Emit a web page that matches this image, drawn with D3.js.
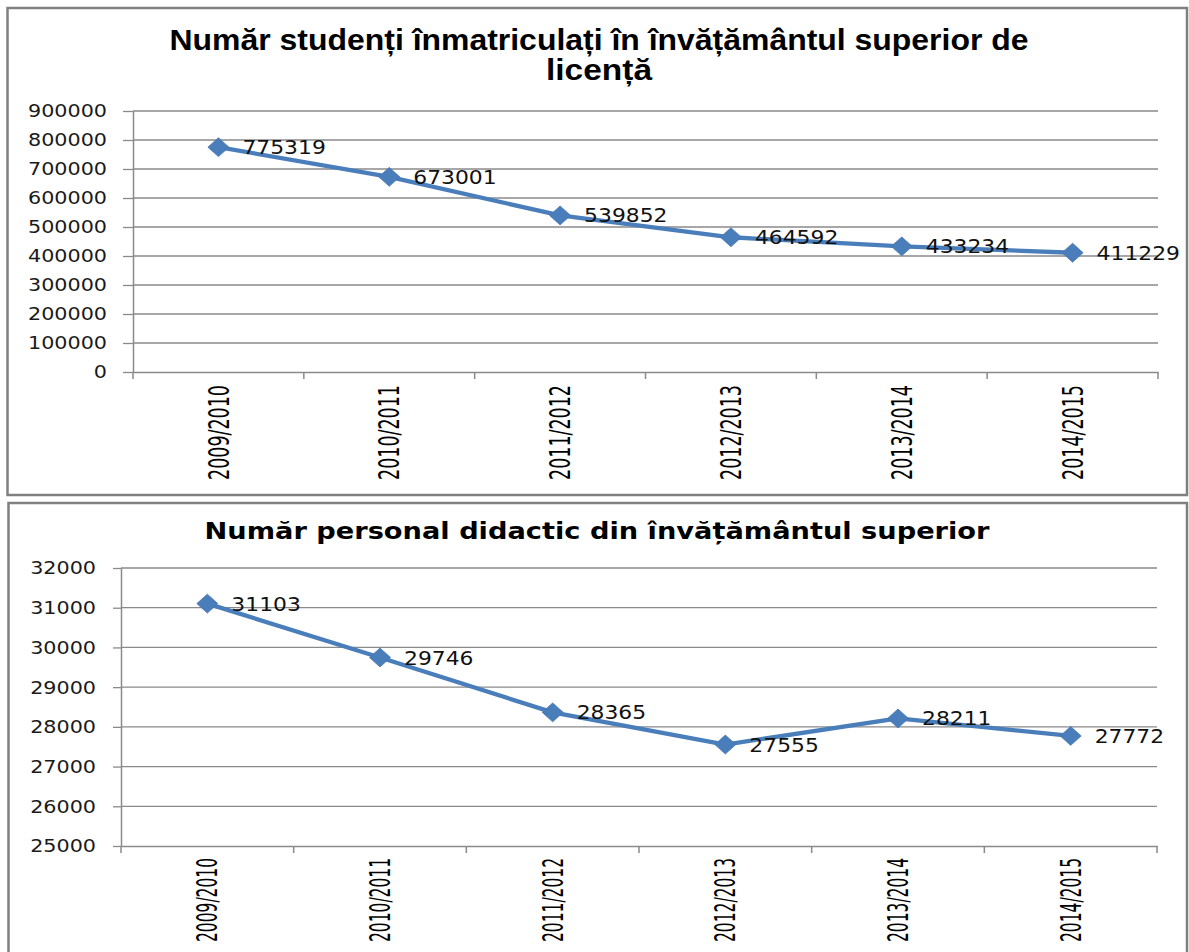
<!DOCTYPE html>
<html>
<head>
<meta charset="utf-8">
<script src="https://cdn.jsdelivr.net/npm/d3@7"></script>
<style>
  html, body { margin: 0; padding: 0; background: #ffffff; }
  svg { display: block; }
</style>
</head>
<body>
<svg id="chart" width="1189" height="952"></svg>
<script>
// ---------------- DATA ----------------
const categories = ["2009/2010", "2010/2011", "2011/2012", "2012/2013", "2013/2014", "2014/2015"];
const studentValues = [775319, 673001, 539852, 464592, 433234, 411229];
const staffValues = [31103, 29746, 28365, 27555, 28211, 27772];
const studentTicks = [0, 100000, 200000, 300000, 400000, 500000, 600000, 700000, 800000, 900000];
const staffTicks = [25000, 26000, 27000, 28000, 29000, 30000, 31000, 32000];
const studentTitle = ["Număr studenți înmatriculați în învățământul superior de", "licență"];
const staffTitle = ["Număr personal didactic din învățământul superior"];

// ---------------- STYLE ----------------
const LINE_COLOR = "#4a7ebb";
const GRID_COLOR = "#8a8a8a";
const FRAME_COLOR = "#808080";
const SX = 1.15; // horizontal stretch of the original picture's text

const svg = d3.select("#chart");

const diamond = {
  draw(context, size) {
    const w = Math.sqrt(size) / 2;
    const h = w * 0.9;
    context.moveTo(0, -h);
    context.lineTo(w, 0);
    context.lineTo(0, h);
    context.lineTo(-w, 0);
    context.closePath();
  }
};

function drawChart(cfg) {
  const g = svg.append("g");

  // frame
  g.append("rect")
    .attr("x", cfg.frame[0]).attr("y", cfg.frame[1])
    .attr("width", cfg.frame[2]).attr("height", cfg.frame[3])
    .attr("fill", "#fff").attr("stroke", FRAME_COLOR).attr("stroke-width", 2.5);

  // title
  cfg.title.forEach((t, i) => {
    const tx = g.append("text")
      .attr("x", cfg.titleX).attr("y", cfg.titleY[i])
      .attr("text-anchor", "middle")
      .attr("font-family", cfg.titleFont)
      .attr("font-weight", "bold")
      .attr("font-size", cfg.titleSize)
      .attr("fill", "#000")
      .text(t);
    if (cfg.titleWidths[i]) {
      tx.attr("textLength", cfg.titleWidths[i]).attr("lengthAdjust", "spacingAndGlyphs");
    }
  });

  const x = d3.scaleBand().domain(categories).range([cfg.left, cfg.right]).paddingInner(0).paddingOuter(0);
  const y = d3.scaleLinear().domain(cfg.domain).range([cfg.bottom, cfg.top]);

  // gridlines
  g.append("g").selectAll("line").data(cfg.ticks.filter(d => d !== cfg.domain[0])).join("line")
    .attr("x1", cfg.left).attr("x2", cfg.right)
    .attr("y1", d => y(d)).attr("y2", d => y(d))
    .attr("stroke", GRID_COLOR).attr("stroke-width", 1.3);

  // y axis
  const yAxis = g.append("g")
    .attr("transform", `translate(${cfg.left},0)`)
    .call(d3.axisLeft(y).tickValues(cfg.ticks).tickSize(cfg.yTickLen).tickSizeOuter(0).tickFormat(d3.format("d")));
  yAxis.select(".domain").attr("stroke", GRID_COLOR).attr("stroke-width", 1.5);
  yAxis.selectAll(".tick line").attr("stroke", GRID_COLOR).attr("stroke-width", 1.3);
  yAxis.selectAll(".tick text").remove();
  // y tick labels (stretched)
  g.append("g").selectAll("text").data(cfg.ticks).join("text")
    .attr("transform", d => `translate(${cfg.yLabelRight},${y(d)}) scale(${SX},1)`)
    .attr("text-anchor", "end")
    .attr("dy", "0.36em")
    .attr("font-family", "DejaVu Sans, Verdana, sans-serif")
    .attr("font-size", cfg.yLabelSize)
    .attr("fill", "#1a1a1a")
    .text(d => d3.format("d")(d));

  // x axis
  const xAxis = g.append("g")
    .attr("transform", `translate(0,${cfg.bottom})`)
    .call(d3.axisBottom(x).tickSize(0).tickSizeOuter(0).tickFormat(""));
  xAxis.select(".domain").attr("stroke", GRID_COLOR).attr("stroke-width", 1.5);
  xAxis.selectAll(".tick").remove();
  // category boundary ticks
  const bounds = categories.map(c => x(c)).concat([x(categories[categories.length - 1]) + x.bandwidth()]);
  g.append("g").selectAll("line").data(bounds).join("line")
    .attr("x1", d => d).attr("x2", d => d)
    .attr("y1", cfg.bottom).attr("y2", cfg.bottom + 7)
    .attr("stroke", GRID_COLOR).attr("stroke-width", 1.5);

  // category labels (rotated)
  g.append("g").selectAll("text").data(categories).join("text")
    .attr("transform", d => `translate(${x(d) + x.bandwidth() / 2},${cfg.catTop}) rotate(-90) scale(1,${cfg.catStretch})`)
    .attr("text-anchor", "end")
    .attr("dy", "0.36em")
    .attr("font-family", "Liberation Sans Narrow, DejaVu Sans Condensed, Arial Narrow, sans-serif")
    .attr("font-size", cfg.catSize)
    .attr("textLength", cfg.catLength)
    .attr("lengthAdjust", "spacingAndGlyphs")
    .attr("fill", "#000")
    .text(d => d);

  // line
  const pts = categories.map((c, i) => [x(c) + x.bandwidth() / 2, y(cfg.values[i])]);
  g.append("path")
    .datum(pts)
    .attr("d", d3.line())
    .attr("fill", "none")
    .attr("stroke", LINE_COLOR)
    .attr("stroke-width", 4.3)
    .attr("stroke-linejoin", "round");

  // markers
  g.append("g").selectAll("path").data(pts).join("path")
    .attr("transform", d => `translate(${d[0]},${d[1]})`)
    .attr("d", d3.symbol().type(diamond).size(441))
    .attr("fill", LINE_COLOR)
    .attr("stroke", "#4677b3")
    .attr("stroke-width", 0.8);

  // data labels
  g.append("g").selectAll("text").data(pts).join("text")
    .attr("transform", (d, i) => `translate(${d[0] + 24},${d[1] + 7}) scale(${SX},1)`)
    .attr("font-family", "DejaVu Sans, Verdana, sans-serif")
    .attr("font-size", cfg.dataLabelSize)
    .attr("fill", "#111")
    .text((d, i) => cfg.values[i]);
}

// top chart
drawChart({
  frame: [7.5, 8, 1179.5, 487],
  title: studentTitle,
  titleX: 599,
  titleY: [50, 80],
  titleWidths: [859, 106],
  titleFont: "Liberation Sans Narrow, Arial Narrow, Liberation Sans, sans-serif",
  titleSize: 30,
  left: 133, right: 1158, top: 111, bottom: 372,
  domain: [0, 900000],
  ticks: studentTicks,
  values: studentValues,
  yTickLen: 10,
  yLabelRight: 107,
  yLabelSize: 18,
  catTop: 385, catSize: 24, catLength: 95, catStretch: 1.18,
  dataLabelSize: 19
});

// bottom chart
drawChart({
  frame: [8.5, 503, 1178.5, 470],
  title: staffTitle,
  titleX: 597,
  titleY: [539],
  titleWidths: [785],
  titleFont: "DejaVu Sans, Verdana, sans-serif",
  titleSize: 23,
  left: 121, right: 1157, top: 568, bottom: 846,
  domain: [25000, 32000],
  ticks: staffTicks,
  values: staffValues,
  yTickLen: 8,
  yLabelRight: 96,
  yLabelSize: 18,
  catTop: 858, catSize: 22, catLength: 84, catStretch: 1.25,
  dataLabelSize: 19
});
</script>
</body>
</html>
